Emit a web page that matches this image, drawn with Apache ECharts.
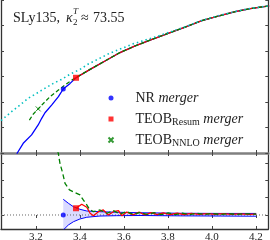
<!DOCTYPE html>
<html><head><meta charset="utf-8">
<script src="https://cdn.jsdelivr.net/npm/echarts@6/dist/echarts.min.js"></script>
<style>html,body{margin:0;padding:0;background:#fff}#c{width:270px;height:240px}</style>
</head><body><div id="c"></div>
<script>
// ---- data ----
const xTicks = [3.2, 3.4, 3.6, 3.8, 4.0, 4.2];
const topYTicks = [0, 1, 2, 3, 4, 5, 6];
const botYTicks = [0, 1, 2, 3];

// top panel
const resumX = [3.382,3.446,3.514,3.582,3.651,3.719,3.801,3.878,3.954,4.028,4.106,4.174,4.26];
const resumY = [2.95,3.28,3.61,3.94,4.20,4.43,4.69,4.94,5.19,5.37,5.54,5.66,5.77];
const nrX = [3.10,3.115,3.142,3.180,3.210,3.226,3.241,3.271,3.302,3.324,3.355,3.382,3.446,3.514,3.582,3.651,3.719,3.801,3.878,3.954,4.028,4.106,4.174,4.26];
const nrY = [-0.40,0.00,0.38,0.71,1.10,1.36,1.58,1.88,2.21,2.51,2.73,2.95,3.28,3.61,3.94,4.20,4.43,4.69,4.94,5.19,5.37,5.54,5.66,5.77];
const nnloX = [3.170,3.188,3.210,3.241,3.264,3.302,3.332,3.363,3.382,3.446,3.514,3.582,3.651,3.719,3.801,3.878,3.954,4.028,4.106,4.174,4.26];
const nnloY = [1.29,1.53,1.73,2.01,2.21,2.47,2.67,2.86,2.96,3.28,3.61,3.94,4.20,4.43,4.69,4.94,5.19,5.37,5.54,5.66,5.77];
const cyanX = [3.041,3.089,3.127,3.165,3.203,3.233,3.279,3.317,3.355,3.400,3.438,3.537,3.642,3.764,3.878,3.954,4.028,4.106,4.174,4.26];
const cyanY = [1.27,1.62,1.88,2.15,2.34,2.50,2.73,2.89,3.09,3.28,3.49,3.92,4.28,4.61,4.95,5.20,5.38,5.55,5.67,5.77];
const nrMerger = [3.324, 2.51];
const resumMerger = [3.382, 2.95];
const nnloMerger = [3.210, 1.73];

// bottom panel
const bandX  = [3.324,3.347,3.370,3.400,3.431,3.491,3.567,3.673,3.855,4.037,4.201];
const bandUp = [0.91,0.68,0.48,0.33,0.23,0.19,0.16,0.13,0.10,0.09,0.09];
const bandLo = [-0.87,-0.58,-0.39,-0.23,-0.13,-0.06,-0.04,-0.03,-0.05,-0.06,-0.07];
const resumDX = [3.382,3.408,3.431,3.446,3.461,3.484,3.506,3.529,3.552,3.575,3.590,3.613,3.641,3.669,3.696,3.723,3.751,3.778,3.810,3.842,3.874,3.906,3.942,3.978,4.015,4.051,4.087,4.124,4.170,4.201];
const resumDY = [0.39,0.62,0.45,0.10,-0.04,0.19,0.29,0.00,0.19,0.25,-0.04,0.17,0.01,0.16,0.01,0.14,0.02,0.12,0.02,0.10,0.02,0.09,0.03,0.08,0.03,0.075,0.035,0.07,0.035,0.055];
const nnloDX = [3.298,3.3015,3.309,3.3215,3.332,3.352,3.378,3.400,3.415,3.431,3.443,3.461,3.491,3.522,3.552,3.582,3.613,3.642,3.673,3.705,3.737,3.769,3.801,3.833,3.865,3.897,3.929,3.965,4.001,4.037,4.074,4.110,4.146,4.201];
const nnloDY = [3.70,3.57,2.99,2.41,1.83,1.45,1.29,1.16,0.87,0.58,0.33,0.19,0.29,0.10,0.25,0.06,0.19,0.03,0.15,0.03,0.13,0.02,0.12,0.02,0.11,0.02,0.10,0.03,0.09,0.03,0.08,0.03,0.07,0.05];
const zeroX = [3.041, 4.256];
const zeroY = [0, 0];
const nrMergerD = [3.324, 0];
const resumMergerD = [3.382, 0.39];

// ---- chart ----
const XMIN = 3.041, XMAX = 4.256;
const FONT = 'Liberation Serif';
const zip = (a, b) => a.map((v, i) => [v, b[i]]);
const BLUE = '#0000ff', RED = '#ff0000', GREEN = '#008000', CYAN = '#00bfbf';
const SQUARE = 'path://M0,0L10,0L10,10L0,10Z';
const CROSS = 'path://M0,0L10,10M0,10L10,0';
const tick = (vals) => ({show: true, inside: true, length: 3, customValues: vals, lineStyle: {color: '#444', width: 1}});

const chart = echarts.init(document.getElementById('c'), null, {renderer: 'canvas'});
const xAx = (grid, pos, line, labels) => ({
  type: 'value', gridIndex: grid, position: pos, min: XMIN, max: XMAX,
  axisLine: line ? {show: true, onZero: false, lineStyle: line} : {show: false},
  axisTick: tick(xTicks),
  axisLabel: labels ? {show: true, customValues: xTicks, formatter: v => v.toFixed(1), fontFamily: FONT, fontSize: 11, color: '#222', margin: 3} : {show: false},
  splitLine: {show: false}
});
const yAx = (grid, pos, min, max, ticks) => ({
  type: 'value', gridIndex: grid, position: pos, min: min, max: max,
  axisLine: {show: true, onZero: false, lineStyle: {color: '#333', width: 1.3}},
  axisTick: tick(ticks), axisLabel: {show: false}, splitLine: {show: false}
});
const line = (name, xi, yi, data, color, type, width, z) => ({
  name, type: 'line', xAxisIndex: xi, yAxisIndex: yi, data, symbol: 'none', z: z || 2,
  lineStyle: {color, type, width}, itemStyle: {color}, animation: false
});

const option = {
  animation: false,
  grid: [
    {left: 1, top: 0, width: 267.3, height: 153, containLabel: false, outerBoundsMode: 'none'},
    {left: 1, top: 153, width: 267.3, height: 76, containLabel: false, outerBoundsMode: 'none'}
  ],
  xAxis: [
    xAx(0, 'bottom', {color: '#808080', width: 2.5}, false),
    xAx(0, 'top', null, false),
    xAx(1, 'bottom', {color: '#333', width: 1.3}, true),
    xAx(1, 'top', null, false)
  ],
  yAxis: [
    yAx(0, 'left', 0, 6, topYTicks),
    yAx(0, 'right', 0, 6, topYTicks),
    yAx(1, 'left', -0.81, 3.584, botYTicks),
    yAx(1, 'right', -0.81, 3.584, botYTicks)
  ],
  legend: {
    data: [{name: 'NR', icon: 'circle'}, {name: 'Resum', icon: SQUARE}, {name: 'NNLO', icon: CROSS}],
    orient: 'vertical', left: 107.5, top: 90, itemWidth: 39, itemHeight: 5, itemGap: 5, padding: 0,
    symbolKeepAspect: true,
    selectedMode: false,
    formatter: n => ({NR: '{n|NR} {i|merger}', Resum: '{n|TEOB}{s|Resum} {i|merger}', NNLO: '{n|TEOB}{s|NNLO} {i|merger}'})[n],
    textStyle: {fontFamily: FONT, fontSize: 14, color: '#222', lineHeight: 16, rich: {
      n: {fontFamily: FONT, fontSize: 14, color: '#222', lineHeight: 16},
      s: {fontFamily: FONT, fontSize: 10, color: '#222', lineHeight: 10, verticalAlign: 'bottom'},
      i: {fontFamily: FONT, fontSize: 14, color: '#222', fontStyle: 'italic', lineHeight: 16}
    }}
  },
  graphic: [
    {type: 'text', x: 13, y: 18, style: {text: 'SLy135,', font: '14px "Liberation Serif"', fill: '#222', verticalAlign: 'middle'}},
    {type: 'text', x: 66, y: 18, style: {text: 'κ', font: 'italic 14px "Liberation Serif"', fill: '#222', verticalAlign: 'middle'}},
    {type: 'text', x: 73, y: 12, style: {text: 'T', font: 'italic 9px "Liberation Serif"', fill: '#222', verticalAlign: 'middle'}},
    {type: 'text', x: 73, y: 23, style: {text: '2', font: '9px "Liberation Serif"', fill: '#222', verticalAlign: 'middle'}},
    {type: 'text', x: 81, y: 18, style: {text: '≈', font: '14px "Liberation Serif"', fill: '#222', verticalAlign: 'middle'}},
    {type: 'text', x: 93, y: 18, style: {text: '73.55', font: '14px "Liberation Serif"', fill: '#222', verticalAlign: 'middle'}}
  ],
  series: [
    // top panel
    line('nrTop', 0, 0, zip(nrX, nrY), BLUE, 'solid', 1.3),
    line('resumTop', 0, 0, zip(resumX, resumY), RED, 'solid', 1.3),
    line('nnloTop', 0, 0, zip(nnloX, nnloY), GREEN, [4, 2.5], 1.3),
    line('cyanTop', 0, 0, zip(cyanX, cyanY), CYAN, [1.5, 3], 1.6),
    {name: 'NR', type: 'scatter', xAxisIndex: 0, yAxisIndex: 0, data: [nrMerger], symbol: 'circle', symbolSize: 5, itemStyle: {color: BLUE}, z: 5},
    {name: 'Resum', type: 'scatter', xAxisIndex: 0, yAxisIndex: 0, data: [resumMerger], symbol: SQUARE, symbolSize: 6, itemStyle: {color: RED}, z: 5},
    {name: 'NNLO', type: 'scatter', xAxisIndex: 0, yAxisIndex: 0, data: [nnloMerger], symbol: CROSS, symbolSize: 5, itemStyle: {color: 'rgba(0,0,0,0)', borderColor: GREEN, borderWidth: 1}, z: 5},
    // bottom panel
    line('zero', 2, 2, zip(zeroX, zeroY), '#666', [1, 2], 1),
    Object.assign(line('bandUp', 2, 2, zip(bandX, bandUp), BLUE, 'solid', 1), {areaStyle: {color: 'rgba(80,80,255,0.3)', origin: 0}}),
    Object.assign(line('bandLo', 2, 2, zip(bandX, bandLo), BLUE, 'solid', 1), {areaStyle: {color: 'rgba(80,80,255,0.3)', origin: 0}}),
    line('resumBot', 2, 2, zip(resumDX, resumDY), RED, 'solid', 1.3, 3),
    line('nnloBot', 2, 2, zip(nnloDX, nnloDY), GREEN, [5, 3], 1.3, 3),
    {name: 'nrBotM', type: 'scatter', xAxisIndex: 2, yAxisIndex: 2, data: [nrMergerD], symbol: 'circle', symbolSize: 5, itemStyle: {color: BLUE}, z: 5},
    {name: 'resumBotM', type: 'scatter', xAxisIndex: 2, yAxisIndex: 2, data: [resumMergerD], symbol: SQUARE, symbolSize: 6, itemStyle: {color: RED}, z: 5}
  ]
};
chart.setOption(option);
</script></body></html>
